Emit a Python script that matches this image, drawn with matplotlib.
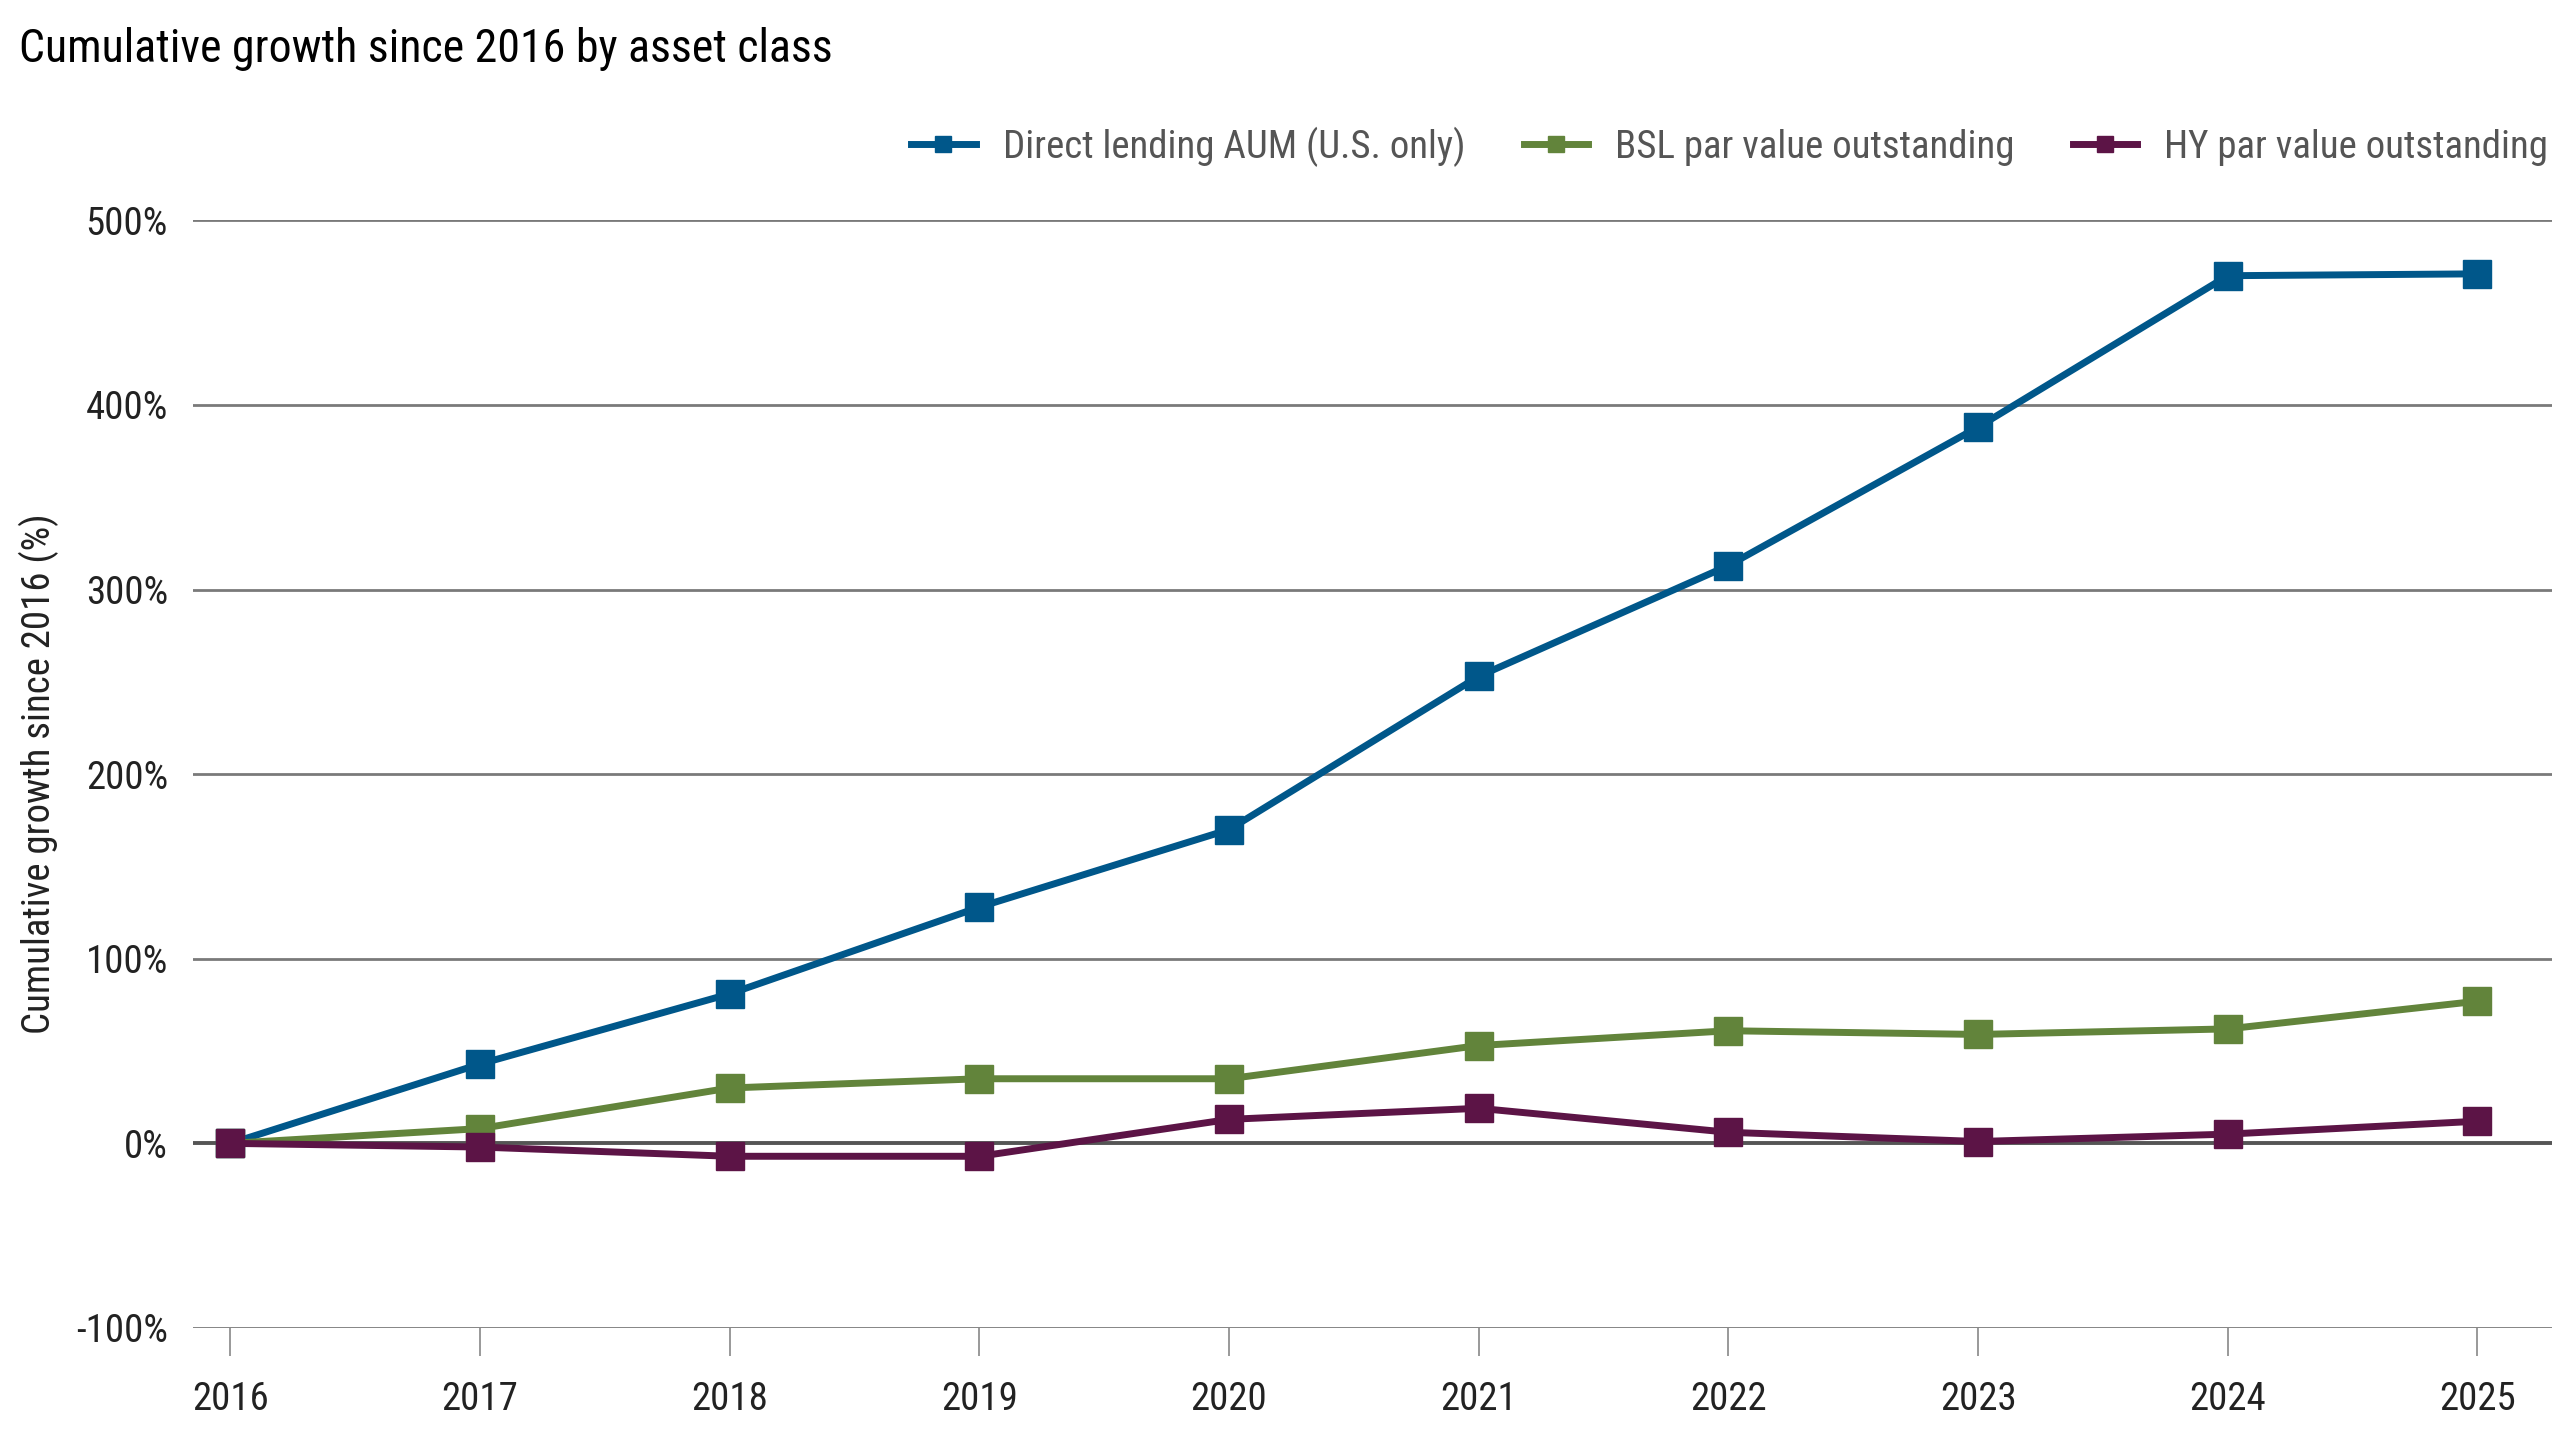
import matplotlib
matplotlib.use("Agg")
import matplotlib.pyplot as plt
from matplotlib.ticker import FuncFormatter

years = [2016, 2017, 2018, 2019, 2020, 2021, 2022, 2023, 2024, 2025]
direct_lending = [0, 43, 81, 128, 170, 253, 313, 388, 470, 471]
bsl = [0, 8, 30, 35, 35, 53, 61, 59, 62, 77]
hy = [0, -2, -7, -7, 13, 19, 6, 1, 5, 12]
series_names = ["Direct lending AUM (U.S. only)", "BSL par value outstanding", "HY par value outstanding"]
colors = ["#00578a", "#62843b", "#5c1446"]
yticks = [-100, 0, 100, 200, 300, 400, 500]

plt.rcParams['font.family'] = ['Roboto Condensed', 'Roboto', 'DejaVu Sans']

fig = plt.figure(figsize=(25.6, 14.4), dpi=100)
ax = fig.add_axes([0.0754, 0.0778, 0.9216, 0.7692])

for t in yticks:
    if t == 0:
        ax.axhline(t, color="#555555", lw=2.8, zorder=1)
    else:
        ax.axhline(t, color="#7a7a7a", lw=2.0, zorder=1)

for vals, name, c in zip([direct_lending, bsl, hy], series_names, colors):
    ax.plot(years, vals, color=c, lw=5, marker="s", markersize=20, label=name, zorder=3)

ax.set_xlim(2015.85, 2025.3)
ax.set_ylim(-100, 500)
ax.set_xticks(years)
ax.set_xticklabels([str(y) for y in years])
ax.set_yticks(yticks)
ax.yaxis.set_major_formatter(FuncFormatter(lambda v, p: f"{int(v)}%"))
for s in ["top", "right", "left", "bottom"]:
    ax.spines[s].set_visible(False)
ax.tick_params(axis="y", length=0, pad=18, labelsize=28, labelcolor="#222222")
ax.tick_params(axis="x", length=20, width=1.2, color="#888888", pad=18, labelsize=28, labelcolor="#222222")
ax.set_ylabel("Cumulative growth since 2016 (%)", fontsize=28, color="#222222", labelpad=12)

fig.text(0.0075, 0.966, "Cumulative growth since 2016 by asset class", fontsize=33, color="#000000", va="center", ha="left")

leg = fig.legend(loc="center right", bbox_to_anchor=(1.003, 0.898), ncol=3, frameon=False, borderaxespad=0.1,
                 fontsize=28, handlelength=1.65, handletextpad=0.7, columnspacing=1.5, markerscale=0.6)
for txt in leg.get_texts():
    txt.set_color("#555555")

fig.savefig("out.png", dpi=100)
